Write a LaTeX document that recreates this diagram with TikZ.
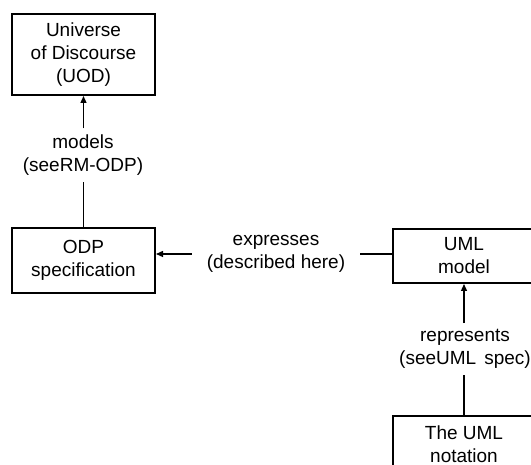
\documentclass[tikz,border=0pt]{standalone}
\usepackage{fontspec}
\setmainfont{Liberation Sans}
\usetikzlibrary{arrows.meta}
\tikzset{
  box/.style={draw, line width=2pt, align=center, minimum width=143pt, inner sep=0pt},
  lbl/.style={align=center, inner xsep=15pt, inner ysep=6pt},
  conn/.style={line width=1.3pt},
  tip/.style={conn, -{Triangle[length=7pt,width=6pt]}}
}
\begin{document}
\begin{tikzpicture}[x=1pt, y=-1pt, font=\fontsize{19}{23}\selectfont]
        \useasboundingbox (0,0) rectangle (531,465);
        \clip (0,0) rectangle (531,465);
        \node[box, minimum height=81pt] (uod)      at (83.5,54.5)  {Universe\\of Discourse\\(UOD)};
        \node[box, minimum height=65pt] (odp)      at (83.5,260.5) {ODP\\specification};
        \node[box, minimum height=54pt] (uml)      at (464,256)    {UML\\model};
        \node[box, minimum height=56pt] (notation) at (464,444)    {The UML\\notation};
        \node[lbl] (models)     at (83,155)  {models\\(seeRM-ODP)};
        \node[lbl] (expresses)  at (276,254) {expresses\\(described here)};
        \node[lbl] (represents) at (465,349) {represents\\(seeUML\hspace{8pt}spec)};
        \draw[conn] (odp.north) -- (odp.north |- models.south);
        \draw[tip] (uod.south |- models.north) -- (uod.south);
        \draw[conn] (uml.west |- expresses.east) -- (expresses.east);
        \draw[tip] (expresses.west) -- (expresses.west -| odp.east);
        \draw[conn] (notation.north) -- (notation.north |- represents.south);
        \draw[tip] (uml.south |- represents.north) -- (uml.south);
    \end{tikzpicture}
\end{document}
